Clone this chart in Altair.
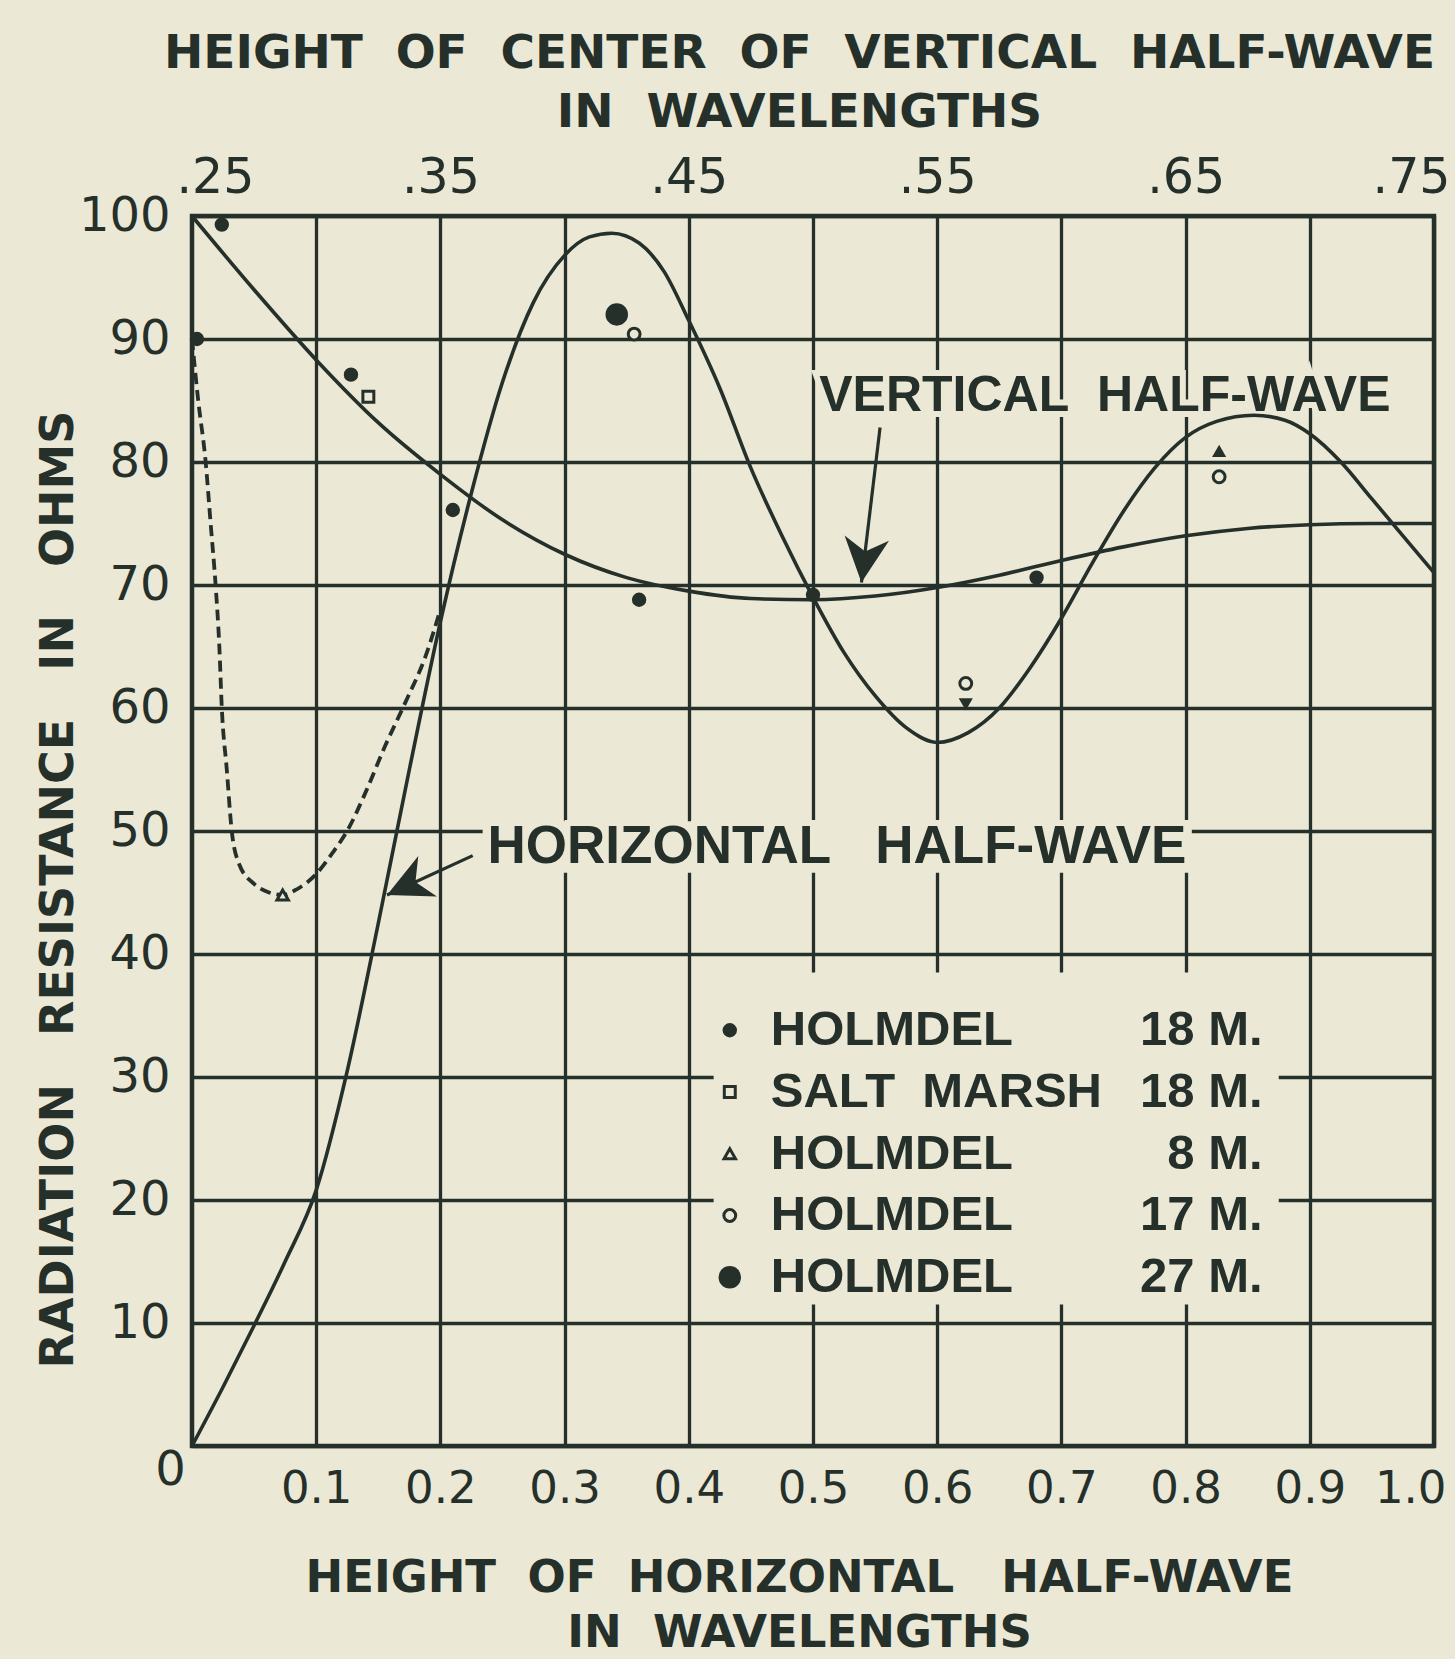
import math
import altair as alt
import pandas as pd

BG = "#ECE8D6"
INK = "#25302B"
W, H = 1242, 1230

# ---- curves ----
h_x = [0.0, 0.025, 0.05, 0.075, 0.1, 0.125, 0.15, 0.175, 0.2, 0.225, 0.25, 0.275, 0.3, 0.32, 0.338,
       0.36, 0.38, 0.4, 0.425, 0.45, 0.475, 0.5, 0.525, 0.55, 0.575, 0.6, 0.625, 0.65, 0.675, 0.7,
       0.725, 0.75, 0.775, 0.8, 0.825, 0.855, 0.88, 0.9, 0.925, 0.95, 0.975, 1.0]
h_y = [0.0, 4.8, 9.8, 15.0, 20.8, 30.5, 42.5, 55.0, 67.0, 77.5, 86.5, 93.0, 96.8, 98.3, 98.6,
       97.8, 95.5, 91.5, 86.0, 79.5, 74.0, 69.0, 64.5, 61.0, 58.4, 57.2, 58.0, 60.0, 63.3, 67.3,
       71.8, 76.0, 79.5, 82.0, 83.3, 83.8, 83.4, 82.3, 80.0, 77.0, 74.0, 71.0]

v_x = [0.0, 0.05, 0.1, 0.15, 0.2, 0.25, 0.3, 0.35, 0.4, 0.45, 0.5, 0.55, 0.6, 0.65, 0.7, 0.75,
       0.8, 0.85, 0.9, 0.95, 1.0]
v_y = [100.0, 94.0, 88.3, 83.2, 79.0, 75.3, 72.5, 70.6, 69.5, 68.9, 68.8, 69.1, 69.8, 70.8, 72.0,
       73.1, 74.0, 74.6, 74.9, 75.0, 75.0]

d_x = [0.0, 0.005, 0.011, 0.015, 0.019, 0.022, 0.024, 0.028, 0.032, 0.038, 0.05, 0.062, 0.073,
       0.085, 0.1, 0.113, 0.126, 0.14, 0.155, 0.172, 0.188, 0.2]
d_y = [90.0, 85.0, 80.0, 75.0, 70.0, 65.0, 60.0, 55.0, 50.0, 47.3, 45.7, 45.0, 44.8, 45.3, 46.5,
       48.2, 50.2, 53.2, 56.8, 60.5, 64.2, 68.0]

# ---- measured points ----
pt_x = [0.004, 0.024, 0.128, 0.21, 0.36, 0.5, 0.68, 0.142, 0.073, 0.356, 0.623, 0.827, 0.342]
pt_y = [90.0, 99.3, 87.1, 76.1, 68.8, 69.2, 70.6, 85.3, 44.8, 90.4, 62.0, 78.8, 92.0]
pt_series = ["HOLMDEL 18 M.", "HOLMDEL 18 M.", "HOLMDEL 18 M.", "HOLMDEL 18 M.", "HOLMDEL 18 M.",
             "HOLMDEL 18 M.", "HOLMDEL 18 M.", "SALT MARSH 18 M.", "HOLMDEL 8 M.", "HOLMDEL 17 M.",
             "HOLMDEL 17 M.", "HOLMDEL 17 M.", "HOLMDEL 27 M."]
up_x, up_y = [0.827], [80.9]
down_x, down_y = [0.623], [60.3]

# ---- legend ----
legend_series = ["HOLMDEL 18 M.", "SALT MARSH 18 M.", "HOLMDEL 8 M.", "HOLMDEL 17 M.", "HOLMDEL 27 M."]
legend_sites = ["HOLMDEL", "SALT\u00a0\u00a0MARSH", "HOLMDEL", "HOLMDEL", "HOLMDEL"]
legend_heights = ["18 M.", "18 M.", "8 M.", "17 M.", "27 M."]
legend_shapes = ["circle", "square", "triangle-up", "circle", "circle"]
legend_fills = [INK, BG, BG, BG, INK]
legend_sizes = [130, 120, 130, 140, 380]

# ---- annotations ----
ann_text = ["VERTICAL\u00a0\u00a0HALF-WAVE", "HORIZONTAL\u00a0\u00a0\u00a0HALF-WAVE"]
ann_size = [50, 53]
ann_x = [0.505, 0.238]
ann_y = [85.4, 48.7]
arrow_x0 = [0.554, 0.226]
arrow_y0 = [82.8, 48.0]
arrow_x1 = [0.539, 0.157]
arrow_y1 = [70.2, 44.8]
# blank band behind the horizontal-half-wave label
band_x, band_x2, band_y, band_y2 = [0.234], [0.805], [46.6], [50.8]

top_ticks = [0.0, 0.2, 0.4, 0.6, 0.8, 1.0]
bottom_ticks = [0.1, 0.2, 0.3, 0.4, 0.5, 0.6, 0.7, 0.8, 0.9, 1.0]
left_ticks = [0, 10, 20, 30, 40, 50, 60, 70, 80, 90, 100]

# ---- tables ----
df_h = pd.DataFrame({"x": h_x, "y": h_y})
df_v = pd.DataFrame({"x": v_x, "y": v_y})
df_d = pd.DataFrame({"x": d_x, "y": d_y})
df_pts = pd.DataFrame({"x": pt_x, "y": pt_y, "series": pt_series})
df_up = pd.DataFrame({"x": up_x, "y": up_y})
df_down = pd.DataFrame({"x": down_x, "y": down_y})
n_leg = len(legend_series)
df_leg = pd.DataFrame({
    "series": legend_series, "site": legend_sites, "height": legend_heights,
    "y": [33.8 - 5.02 * i for i in range(n_leg)],
})
df_box = pd.DataFrame({"x": [0.42] + band_x, "x2": [0.875] + band_x2,
                       "y": [11.5] + band_y, "y2": [38.5] + band_y2})
df_ann = pd.DataFrame({"text": ann_text, "x": ann_x, "y": ann_y, "fs": ann_size})


def head_angle(x0, y0, x1, y1):
    bx = (x0 - x1) * W
    by = -(y0 - y1) * H / 100.0
    a = math.degrees(math.atan2(by, bx)) - 90.0
    return a % 360


df_arrow = pd.DataFrame({
    "x0": arrow_x0, "y0": arrow_y0, "x1": arrow_x1, "y1": arrow_y1,
    "ang": [head_angle(a, b, c, d) for a, b, c, d in zip(arrow_x0, arrow_y0, arrow_x1, arrow_y1)],
})

XS = alt.Scale(domain=[0, 1], nice=False, zero=False)
YS = alt.Scale(domain=[0, 100], nice=False, zero=False)

shape_scale = alt.Scale(domain=legend_series, range=legend_shapes)
fill_scale = alt.Scale(domain=legend_series, range=legend_fills)
size_scale = alt.Scale(type="ordinal", domain=legend_series, range=legend_sizes)

bottom_axis = alt.Axis(
    orient="bottom", values=bottom_ticks, format=".1f", grid=True,
    labelFont="DejaVu Sans", labelFontSize=45, labelPadding=20, labelColor=INK,
    labelFlush=True, labelFlushOffset=12,
    title=["HEIGHT\u00a0\u00a0OF\u00a0\u00a0HORIZONTAL\u00a0\u00a0\u00a0HALF-WAVE", "IN\u00a0\u00a0WAVELENGTHS"],
    titleFont="DejaVu Sans", titleFontWeight="bold", titleFontSize=45, titleColor=INK,
    titleX=607, titleY=145, titleAlign="center", titleBaseline="alphabetic", titleLineHeight=55,
)
left_axis = alt.Axis(
    orient="left", values=left_ticks, grid=True,
    labelFont="DejaVu Sans", labelFontSize=48, labelPadding=22, labelColor=INK,
    labelBaseline={"condition": {"test": "datum.value == 0", "value": "top"}, "value": "middle"},
    labelAlign={"condition": {"test": "datum.value == 0", "value": "center"}, "value": "right"},
    title="RADIATION\u00a0\u00a0\u00a0RESISTANCE\u00a0\u00a0\u00a0IN\u00a0\u00a0\u00a0OHMS",
    titleFont="DejaVu Sans", titleFontWeight="bold", titleFontSize=46, titleColor=INK,
    titleX=-134, titleY=673, titleAngle=270, titleAlign="center", titleBaseline="middle",
)
top_axis = alt.Axis(
    orient="top", values=top_ticks, grid=False,
    labelExpr="'.' + format(25 + datum.value * 50, 'd')",
    labelFont="DejaVu Sans", labelFontSize=49, labelPadding=14, labelColor=INK,
    labelFlush=True, labelFlushOffset=16,
    title=["HEIGHT\u00a0\u00a0OF\u00a0\u00a0CENTER\u00a0\u00a0OF\u00a0\u00a0VERTICAL\u00a0\u00a0HALF-WAVE", "IN\u00a0\u00a0WAVELENGTHS"],
    titleFont="DejaVu Sans", titleFontWeight="bold", titleFontSize=47, titleColor=INK,
    titleX=607, titleY=-149, titleAlign="center", titleBaseline="alphabetic", titleLineHeight=59,
)

# blank boxes (legend + label band); carries bottom & left axes with grid
box = alt.Chart(df_box).mark_rect(fill=BG).encode(
    x=alt.X("x:Q", scale=XS, axis=bottom_axis),
    x2="x2:Q",
    y=alt.Y("y:Q", scale=YS, axis=left_axis),
    y2="y2:Q",
)

# text halos (carry the top axis)
halo = alt.Chart(df_ann).mark_text(
    font="Liberation Sans", fontWeight="bold", align="left", baseline="middle",
    fill=BG, stroke=BG, strokeWidth=12,
).encode(
    x=alt.X("x:Q", scale=XS, axis=top_axis),
    y=alt.Y("y:Q", scale=YS, axis=None),
    text="text:N",
    size=alt.Size("fs:Q", scale=None),
)

line_h = alt.Chart(df_h).mark_line(color=INK, strokeWidth=3.6, interpolate="monotone").encode(
    x=alt.X("x:Q", scale=XS, axis=None), y=alt.Y("y:Q", scale=YS, axis=None))
line_v = alt.Chart(df_v).mark_line(color=INK, strokeWidth=3.6, interpolate="monotone").encode(
    x=alt.X("x:Q", scale=XS, axis=None), y=alt.Y("y:Q", scale=YS, axis=None))
line_d = alt.Chart(df_d).mark_line(color=INK, strokeWidth=3.8, strokeDash=[11, 6],
                                   interpolate="monotone").encode(
    x=alt.X("x:Q", scale=XS, axis=None), y=alt.Y("y:Q", scale=YS, axis=None))

shafts = alt.Chart(df_arrow).mark_rule(color=INK, strokeWidth=3.2).encode(
    x=alt.X("x0:Q", scale=XS, axis=None), y=alt.Y("y0:Q", scale=YS, axis=None),
    x2="x1:Q", y2="y1:Q")
heads = alt.Chart(df_arrow).mark_point(
    shape="M0,0 L0.5,1 L0,0.7 L-0.5,1 Z", filled=True, color=INK, size=8000, opacity=1,
).encode(
    x=alt.X("x1:Q", scale=XS, axis=None), y=alt.Y("y1:Q", scale=YS, axis=None),
    angle=alt.Angle("ang:Q", scale=None))

points = alt.Chart(df_pts).mark_point(filled=True, stroke=INK, strokeWidth=3, opacity=1).encode(
    x=alt.X("x:Q", scale=XS, axis=None), y=alt.Y("y:Q", scale=YS, axis=None),
    shape=alt.Shape("series:N", scale=shape_scale, legend=None),
    fill=alt.Fill("series:N", scale=fill_scale, legend=None),
    size=alt.Size("series:N", scale=size_scale, legend=None),
)
ups = alt.Chart(df_up).mark_point(shape="triangle-up", filled=True, color=INK, size=200, opacity=1).encode(
    x=alt.X("x:Q", scale=XS, axis=None), y=alt.Y("y:Q", scale=YS, axis=None))
downs = alt.Chart(df_down).mark_point(shape="triangle-down", filled=True, color=INK, size=200, opacity=1).encode(
    x=alt.X("x:Q", scale=XS, axis=None), y=alt.Y("y:Q", scale=YS, axis=None))

ann = alt.Chart(df_ann).mark_text(
    font="Liberation Sans", fontWeight="bold", align="left", baseline="middle", color=INK,
).encode(x=alt.X("x:Q", scale=XS, axis=None), y=alt.Y("y:Q", scale=YS, axis=None), text="text:N",
         size=alt.Size("fs:Q", scale=None))

leg_marks = alt.Chart(df_leg).mark_point(filled=True, stroke=INK, strokeWidth=3, opacity=1).encode(
    x=alt.value(0.433 * W), y=alt.Y("y:Q", scale=YS, axis=None),
    shape=alt.Shape("series:N", scale=shape_scale, legend=None),
    fill=alt.Fill("series:N", scale=fill_scale, legend=None),
    size=alt.Size("series:N", scale=size_scale, legend=None),
)
leg_site = alt.Chart(df_leg).mark_text(
    font="Liberation Sans", fontWeight="bold", fontSize=49, align="left", baseline="middle", color=INK,
).encode(x=alt.value(0.466 * W), y=alt.Y("y:Q", scale=YS, axis=None), text="site:N")
leg_h = alt.Chart(df_leg).mark_text(
    font="Liberation Sans", fontWeight="bold", fontSize=49, align="right", baseline="middle", color=INK,
).encode(x=alt.value(0.862 * W), y=alt.Y("y:Q", scale=YS, axis=None), text="height:N")

chart = alt.layer(
    box, halo, line_h, line_v, line_d, shafts, heads, points, ups, downs, ann,
    leg_marks, leg_site, leg_h,
).resolve_axis(x="independent", y="independent").resolve_scale(
    shape="shared", fill="shared", size="independent"
).properties(
    width=W, height=H,
    background=BG,
    padding={"left": 192, "top": 216, "right": 21, "bottom": 213},
    autosize=alt.AutoSizeParams(type="none"),
).configure_view(
    stroke=INK, strokeWidth=4.5, fill=BG,
).configure_axis(
    domain=False, ticks=False, gridColor=INK, gridWidth=3.3, gridOpacity=1,
)

chart.save("out.html", embed_options={"renderer": "svg", "actions": False})
